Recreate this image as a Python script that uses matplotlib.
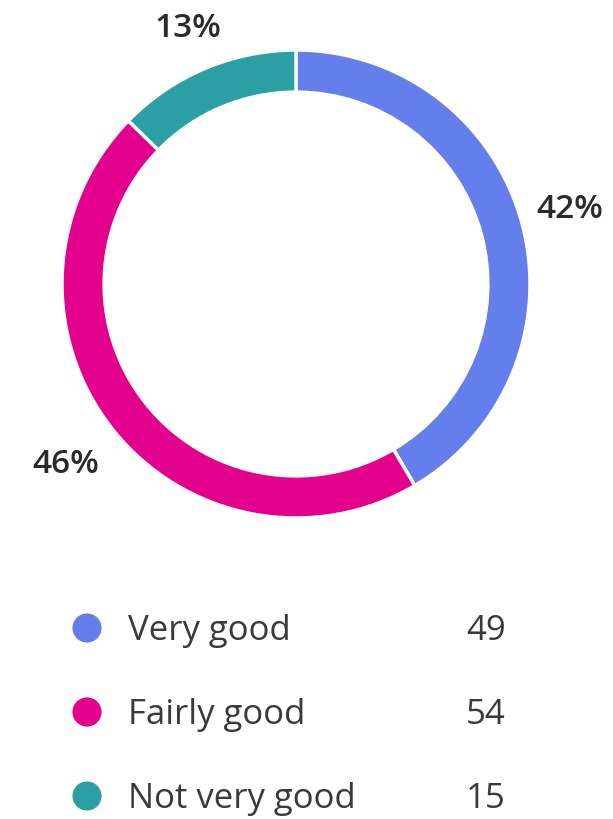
import numpy as np
import matplotlib.pyplot as plt

categories = ['Very good', 'Fairly good', 'Not very good']
counts = [49, 54, 15]
colors = ['#647EEC', '#E3008C', '#2AA0A4']
# how far out each percentage sits, in units of the ring radius
label_radius = [1.215, 1.25, 1.185]

plt.rcParams['font.family'] = ['Open Sans', 'DejaVu Sans']
text_color = '#2b2b2b'

W, H = 613, 819
fig = plt.figure(figsize=(W / 100, H / 100), dpi=100)

# donut ring, centre and radius in pixels
cx, cy, R = 296, 284, 234
ax = fig.add_axes([(cx - R) / W, 1 - (cy + R) / H, 2 * R / W, 2 * R / H])
wedges, texts, pcts = ax.pie(
    counts, colors=colors, startangle=90, counterclock=False,
    autopct='%.0f%%', pctdistance=1.22, radius=1.0,
    wedgeprops=dict(width=0.18, edgecolor='white', linewidth=2.5),
    textprops=dict(fontsize=24, color=text_color, fontweight='semibold'),
)
for w, t, r in zip(wedges, pcts, label_radius):
    mid = np.deg2rad((w.theta1 + w.theta2) / 2)
    t.set_position((r * np.cos(mid), r * np.sin(mid)))
ax.set_xlim(-1, 1)
ax.set_ylim(-1, 1)
ax.set_aspect('equal')

# legend block drawn in pixel coordinates
lg = fig.add_axes([0, 0, 1, 1], zorder=-1)
lg.set_xlim(0, W)
lg.set_ylim(H, 0)
lg.axis('off')
for i, (name, n, c) in enumerate(zip(categories, counts, colors)):
    y = 628 + 84 * i
    lg.scatter([87], [y], s=440, color=c, edgecolors='none')
    lg.text(128, y + 12, name, fontsize=25, color='#3a3a3a', va='baseline', ha='left')
    lg.text(506, y + 12, str(n), fontsize=25, color='#3a3a3a', va='baseline', ha='right')

fig.savefig('out.png', dpi=100, facecolor='white')
